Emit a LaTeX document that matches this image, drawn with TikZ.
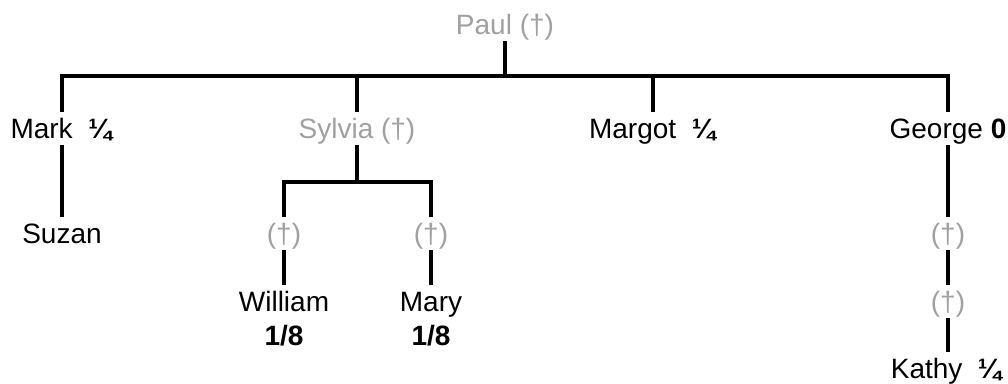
\documentclass[tikz,border=0pt]{standalone}
\usepackage{fontspec}
\setmainfont{Liberation Sans}
\definecolor{deadgray}{RGB}{160,160,160}
\begin{document}
\begin{tikzpicture}[x=1pt,y=-1pt,
  person/.style={font=\fontsize{28}{33}\selectfont, inner sep=0pt, text height=26pt, text depth=7pt, anchor=base},
  dead/.style={person, text=deadgray},
  conn/.style={draw=black, line width=4pt, line join=miter}]
\useasboundingbox (0,0) rectangle (1008,383);
% nodes
\node[dead]   (paul)   at (505,34)  {Paul (†)};
\node[person] (mark)   at (62,138)  {Mark~~\textbf{¼}};
\node[dead]   (sylvia) at (357,138) {Sylvia (†)};
\node[person] (margot) at (653,138) {Margot~~\textbf{¼}};
\node[person] (george) at (948,138) {George \textbf{0}};
\node[person] (suzan)  at (62,243)  {Suzan};
\node[dead]   (d1)     at (284,243) {(†)};
\node[dead]   (d2)     at (431,243) {(†)};
\node[dead]   (d3)     at (948,243) {(†)};
\node[person] (william) at (284,311) {William};
\node[person] (mary)   at (431,311) {Mary};
\node[dead]   (d4)     at (948,311) {(†)};
\node[person] (wshare) at (284,345) {\textbf{1/8}};
\node[person] (mshare) at (431,345) {\textbf{1/8}};
\node[person] (kathy)  at (947,378) {Kathy~~\textbf{¼}};
% connectors
\coordinate (bar) at (505,76);
\coordinate (sub) at (357,182);
\draw[conn] (mark.north) |- (bar) -| (george.north);
\draw[conn] (paul.south) -- (bar);
\draw[conn] (sylvia.north) -- (sylvia.north |- bar);
\draw[conn] (margot.north) -- (margot.north |- bar);
\draw[conn] (mark.south) -- (suzan.north);
\draw[conn] (sylvia.south) -- (sub);
\draw[conn] (d1.north) |- (sub) -| (d2.north);
\draw[conn] (d1.south) -- (william.north);
\draw[conn] (d2.south) -- (mary.north);
\draw[conn] (george.south) -- (d3.north);
\draw[conn] (d3.south) -- (d4.north);
\draw[conn] (d4.south) -- ([xshift=1pt]kathy.north);
\end{tikzpicture}
\end{document}
